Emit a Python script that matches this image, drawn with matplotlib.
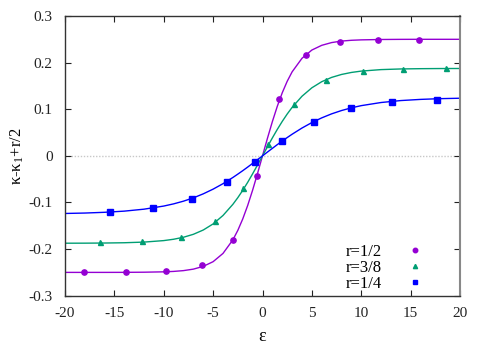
import matplotlib
matplotlib.use("Agg")
import matplotlib.pyplot as plt
from matplotlib.lines import Line2D

plt.rcParams['font.family'] = ['Liberation Serif', 'DejaVu Serif']
plt.rcParams['mathtext.fontset'] = 'custom'
plt.rcParams['mathtext.rm'] = 'Liberation Serif'
plt.rcParams['mathtext.it'] = 'Liberation Serif:italic'
plt.rcParams['axes.unicode_minus'] = False

# Smooth curves
eps_line = [-20, -18, -16, -14, -12, -10, -9, -8, -7, -6, -5, -4, -3, -2.5, -2, -1.5, -1, -0.5,
            0, 0.5, 1, 1.5, 2, 2.5, 3, 4, 5, 6, 7, 8, 9, 10, 12, 14, 16, 18, 20]
line_half = [-0.2500, -0.2500, -0.2500, -0.2499, -0.2496, -0.2488, -0.2479, -0.2462, -0.2430,
             -0.2371, -0.2270, -0.2093, -0.1802, -0.1599, -0.1353, -0.1064, -0.0735, -0.0376,
             0.0, 0.0376, 0.0735, 0.1064, 0.1353, 0.1599, 0.1802, 0.2093, 0.2270, 0.2371,
             0.2430, 0.2462, 0.2479, 0.2488, 0.2496, 0.2499, 0.2500, 0.2500, 0.2500]
line_38 = [-0.1874, -0.1873, -0.1870, -0.1864, -0.1850, -0.1818, -0.1789, -0.1746, -0.1683,
           -0.1591, -0.1460, -0.1279, -0.1040, -0.0897, -0.0739, -0.0568, -0.0385, -0.0195,
           0.0, 0.0195, 0.0385, 0.0568, 0.0739, 0.0897, 0.1040, 0.1279, 0.1460, 0.1591,
           0.1683, 0.1746, 0.1789, 0.1818, 0.1850, 0.1864, 0.1870, 0.1873, 0.1874]
line_quarter = [-0.1236, -0.1227, -0.1211, -0.1186, -0.1144, -0.1077, -0.1030, -0.0972, -0.0901,
                -0.0815, -0.0714, -0.0597, -0.0464, -0.0392, -0.0318, -0.0241, -0.0161, -0.0081,
                0.0, 0.0081, 0.0161, 0.0241, 0.0318, 0.0392, 0.0464, 0.0597, 0.0714, 0.0815,
                0.0901, 0.0972, 0.1030, 0.1077, 0.1144, 0.1186, 0.1211, 0.1227, 0.1236]

# Data points
eps_half = [-18.05, -13.79, -9.77, -6.16, -3.02, -0.59, 1.67, 4.43, 7.85, 11.67, 15.82]
pts_half = [-0.2499, -0.2499, -0.2478, -0.2349, -0.180, -0.0426, 0.121, 0.216, 0.2437, 0.2486, 0.2493]
eps_38 = [-16.46, -12.17, -8.28, -4.81, -1.94, 0.56, 3.22, 6.43, 10.15, 14.20, 18.58]
pts_38 = [-0.1849, -0.1827, -0.1735, -0.1405, -0.069, 0.0248, 0.111, 0.1634, 0.182, 0.1864, 0.1879]
eps_quarter = [-15.41, -11.09, -7.11, -3.59, -0.73, 1.97, 5.22, 8.96, 13.14, 17.70]
pts_quarter = [-0.1205, -0.1119, -0.092, -0.0555, -0.0126, 0.0312, 0.0733, 0.102, 0.1156, 0.1199]

labels = ['r=1/2', 'r=3/8', 'r=1/4']
colors = ['#9400d3', '#009e73', '#0000ff']
markers = ['o', '^', 's']
msizes = [3.8, 3.6, 4.2]
xticks = [-20, -15, -10, -5, 0, 5, 10, 15, 20]
yticks = [-0.3, -0.2, -0.1, 0, 0.1, 0.2, 0.3]
yticklabels = ['-0.3', '-0.2', '-0.1', '0', '0.1', '0.2', '0.3']

fig = plt.figure(figsize=(4.98, 3.49), dpi=100)
ax = fig.add_axes([65/498, 1-295.7/349, (460-65)/498, (295.7-16)/349])

ax.axhline(0, color='#c8c8c8', lw=1, ls=(0, (1, 1.2)), zorder=1)

lines_y = [line_half, line_38, line_quarter]
pts_x = [eps_half, eps_38, eps_quarter]
pts_y = [pts_half, pts_38, pts_quarter]
handles = []
for ly, px, py, c, m, ms, lab in zip(lines_y, pts_x, pts_y, colors, markers, msizes, labels):
    ax.plot(eps_line, ly, color=c, lw=1, zorder=2)
    ax.plot(px, py, ls='none', marker=m, color=c, ms=ms, zorder=3)
    handles.append(Line2D([], [], ls='none', marker=m, color=c, ms=ms * 0.85, label=lab))

ax.set_xlim(-20, 20)
ax.set_ylim(-0.3, 0.3)
ax.set_xticks(xticks)
ax.set_xticklabels([str(t) for t in xticks])
ax.set_yticks(yticks)
ax.set_yticklabels(yticklabels)
ax.tick_params(direction='in', length=4, width=0.8, top=True, right=True,
               labelsize=11, colors='#222222')
ax.tick_params(axis='x', pad=8)
ax.tick_params(axis='y', pad=9)
for s in ax.spines.values():
    s.set_color('#333333')
    s.set_linewidth(1)
ax.spines['right'].set_color('#888888')
ax.spines['right'].set_linewidth(1.5)

ax.set_xlabel('ε', fontsize=13, labelpad=6)
ax.set_ylabel('κ-κ$_1$+r/2', fontsize=12, labelpad=2)

leg = ax.legend(handles=handles, loc='lower right', bbox_to_anchor=(0.945, -0.009),
                frameon=False, markerfirst=False, fontsize=12, labelspacing=0.0,
                handlelength=2.0, handletextpad=0.96, borderaxespad=0, borderpad=0.4)
for t in leg.get_texts():
    t.set_ha('right')

fig.savefig('out.png', dpi=100)
